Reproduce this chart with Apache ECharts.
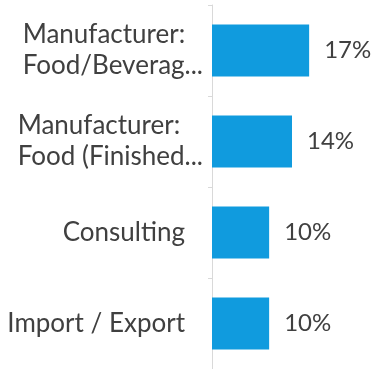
<!DOCTYPE html>
<html>
<head>
<meta charset="utf-8">
<script src="https://cdn.jsdelivr.net/npm/echarts@6/dist/echarts.min.js"></script>
<style>
  html, body { margin: 0; padding: 0; background: #ffffff; }
  #chart { width: 375px; height: 369px; }
</style>
</head>
<body>
<div id="chart"></div>
<script>
// Share of respondents by business type
const categories = [
  'Manufacturer:\nFood/Beverag...',
  'Manufacturer:\nFood (Finished...',
  'Consulting',
  'Import / Export'
];
const shares = [17, 14, 10, 10];

const chart = echarts.init(document.getElementById('chart'));
const FONT = 'Lato, "Open Sans", sans-serif';
const TEXT = '#404040';

chart.setOption({
  animation: false,
  grid: { left: 212, top: 5, right: 3, height: 366 },
  xAxis: {
    type: 'value',
    min: 0,
    max: 28,
    show: false
  },
  yAxis: {
    type: 'category',
    data: categories,
    inverse: true,
    axisLine: { show: true, lineStyle: { color: '#d9d9d9', width: 1 } },
    axisTick: { show: true, length: 4, lineStyle: { color: '#d9d9d9' } },
    axisLabel: {
      margin: 9,
      align: 'right',
      color: TEXT,
      fontFamily: FONT,
      fontSize: 26,
      lineHeight: 31,
      formatter: function (v) {
        const lines = v.split('\n');
        if (lines.length === 1) return '{s|' + v + '}';
        return lines.map(function (t) { return '{m|' + t + '}'; }).join('\n');
      },
      rich: {
        m: { align: 'left', fontFamily: FONT, fontSize: 26, lineHeight: 31, color: TEXT },
        s: { fontFamily: FONT, fontSize: 26, lineHeight: 31, color: TEXT, padding: [0, 18, 0, 0] }
      }
    }
  },
  series: [{
    type: 'bar',
    data: shares,
    barWidth: 52,
    itemStyle: { color: '#109bde' },
    label: {
      show: true,
      position: 'right',
      distance: 15,
      color: TEXT,
      fontFamily: FONT,
      fontSize: 24,
      formatter: function (p) { return p.value + '%'; }
    }
  }]
});
</script>
</body>
</html>
